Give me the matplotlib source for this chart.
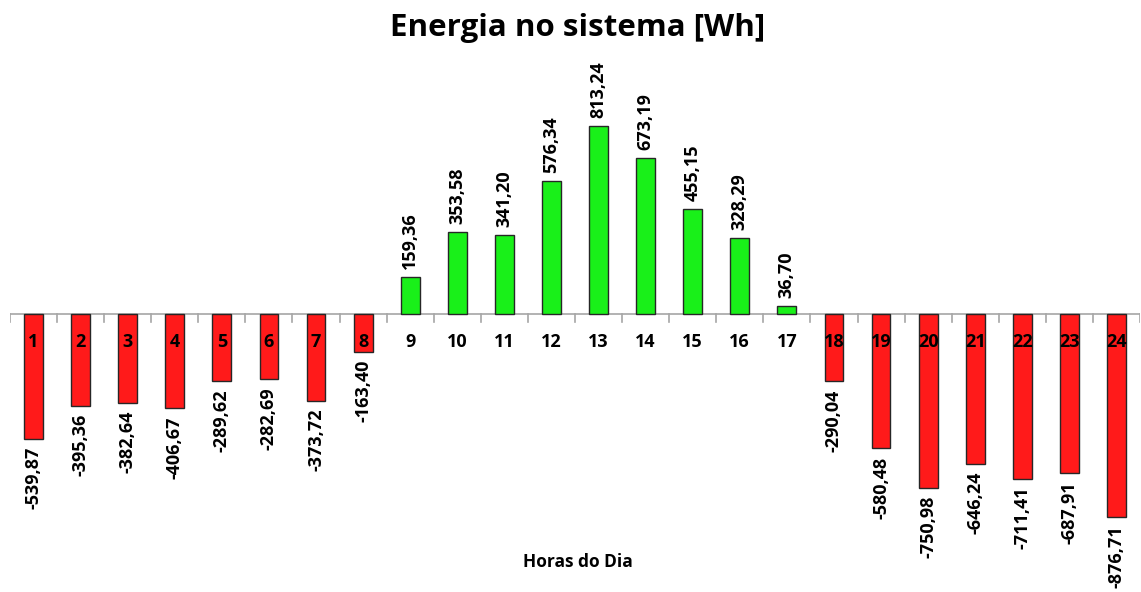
import numpy as np
import matplotlib.pyplot as plt

horas = np.arange(1, 25)
energia = [-539.87, -395.36, -382.64, -406.67, -289.62, -282.69, -373.72, -163.40,
           159.36, 353.58, 341.20, 576.34, 813.24, 673.19, 455.15, 328.29, 36.70,
           -290.04, -580.48, -750.98, -646.24, -711.41, -687.91, -876.71]
rotulos = ['-539,87', '-395,36', '-382,64', '-406,67', '-289,62', '-282,69', '-373,72', '-163,40',
           '159,36', '353,58', '341,20', '576,34', '813,24', '673,19', '455,15', '328,29', '36,70',
           '-290,04', '-580,48', '-750,98', '-646,24', '-711,41', '-687,91', '-876,71']

plt.rcParams['font.family'] = ['Open Sans', 'DejaVu Sans']

fig = plt.figure(figsize=(11.41, 5.92), dpi=100)
ax = fig.add_axes([10/1141, 1 - 580/592, 1130/1141, 520/592])

cores = ['#19f019' if v > 0 else '#ff1a1a' for v in energia]
ax.bar(horas, energia, width=0.4, color=cores, edgecolor='#262626', linewidth=1.0, zorder=2)

ax.set_xlim(0.5, 24.5)
ax.set_ylim(-1150, 1099)

# linha do zero com marcas entre as categorias
ax.axhline(0, color='#a6a6a6', lw=1.2, zorder=1)
for b in np.arange(0.5, 25, 1):
    ax.plot([b, b], [0, -35], color='#a6a6a6', lw=1.2, zorder=1)

for s in ax.spines.values():
    s.set_visible(False)
ax.set_xticks([])
ax.set_yticks([])

for h, v, r in zip(horas, energia, rotulos):
    ax.text(h, -120, str(h), ha='center', va='center', fontsize=13, fontweight='bold', zorder=3)
    if v > 0:
        ax.text(h, v + 35, r, rotation=90, ha='center', va='bottom', fontsize=13, fontweight='bold')
    else:
        ax.text(h, v - 35, r, rotation=90, ha='center', va='top', fontsize=13, fontweight='bold')

fig.text(0.5065, 1 - 28/592, 'Energia no sistema [Wh]', ha='center', va='center',
         fontsize=22.5, fontweight='bold')
fig.text(578/1141, 1 - 562/592, 'Horas do Dia', ha='center', va='center',
         fontsize=12.5, fontweight='bold')

fig.savefig('out.png', dpi=100)
